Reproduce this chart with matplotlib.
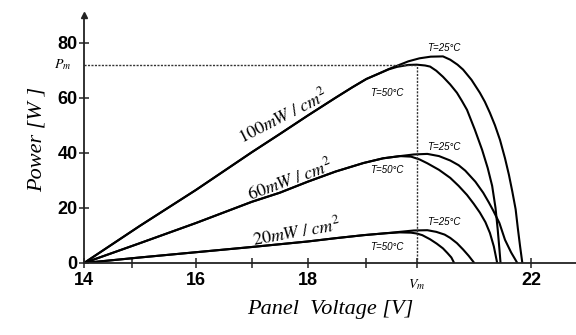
import matplotlib
matplotlib.use("Agg")
import matplotlib.pyplot as plt

plt.rcParams['mathtext.fontset'] = 'stix'

# curves: panel voltage [V] vs power [W]
v_100_t50 = [14, 15, 16, 17, 17.5, 18, 18.5, 18.8, 19.05, 19.3, 19.45, 19.6, 19.8, 19.95, 20.1, 20.19, 20.3, 20.42,
             20.55, 20.67, 20.76, 20.85, 20.99, 21.12, 21.22, 21.30, 21.36, 21.40, 21.43, 21.45]
p_100_t50 = [0, 13.5, 26.5, 40.2, 46.8, 53.5, 60, 63.8, 66.8, 69, 70.3, 71.2, 71.9, 72, 71.7, 71.3, 69.8, 67.6,
             64.8, 61.8, 58.8, 55.6, 48.4, 41.1, 34.5, 28, 20, 12, 5, 0]
v_100_t25 = [14, 15, 16, 17, 17.5, 18, 18.5, 18.8, 19.05, 19.3, 19.45, 19.6, 19.8, 20.0, 20.2, 20.42, 20.55, 20.68,
             20.78, 20.93, 21.08, 21.17, 21.26, 21.35, 21.44, 21.53, 21.60, 21.66, 21.72, 21.76, 21.80, 21.84]
p_100_t25 = [0, 13.5, 26.5, 40.2, 46.8, 53.5, 60, 63.8, 66.8, 69, 70.4, 71.6, 73.2, 74.3, 74.9, 75.0, 73.8, 72.0,
             70.2, 66.5, 61.8, 58.5, 54.5, 50, 44.7, 38.0, 32.0, 26.0, 19.5, 12.5, 6, 0]

v_60_t50 = [14, 15, 16, 17, 17.5, 18, 18.5, 19, 19.35, 19.65, 19.85, 20.0, 20.14, 20.35, 20.55, 20.7, 20.85,
            20.97, 21.08, 21.18, 21.26, 21.33, 21.39]
p_60_t50 = [0, 7.2, 14.5, 22.2, 25.5, 29.5, 33.2, 36.3, 38.0, 38.8, 38.6, 37.6, 36.2, 33.8, 30.9, 28, 24.7,
            21.5, 18.3, 14.8, 10.9, 6, 0]
v_60_t25 = [14, 15, 16, 17, 17.5, 18, 18.5, 19, 19.35, 19.65, 19.9, 20.14, 20.35, 20.55, 20.7, 20.82, 21.0,
            21.14, 21.24, 21.32, 21.43, 21.53, 21.64, 21.75]
p_60_t25 = [0, 7.2, 14.5, 22.2, 25.5, 29.5, 33.2, 36.3, 38.0, 38.8, 39.4, 39.6, 38.8, 37.2, 35.5, 33.5, 29.5,
            25.5, 22.0, 19.0, 14.5, 8.4, 3.8, 0]

v_20_t50 = [14, 15, 16, 17, 18, 18.5, 19, 19.4, 19.65, 19.85, 19.95, 20.05, 20.19, 20.31, 20.42, 20.50, 20.57, 20.62]
p_20_t50 = [0, 2.0, 3.9, 5.8, 7.8, 9.0, 10.1, 10.8, 11.1, 11.0, 10.7, 10.1, 8.6, 7.0, 5.3, 3.6, 2.0, 0]
v_20_t25 = [14, 15, 16, 17, 18, 18.5, 19, 19.4, 19.65, 19.9, 20.14, 20.3, 20.45, 20.55, 20.67, 20.78, 20.88, 20.98]
p_20_t25 = [0, 2.0, 3.9, 5.8, 7.8, 9.0, 10.1, 10.8, 11.3, 11.8, 11.9, 11.3, 10.3, 9.1, 7.2, 4.9, 2.6, 0]

v_m = 19.95
p_m = 72

x_major = [14, 16, 18, v_m, 22]
x_major_labels = ['14', '16', '18', '', '22']
x_minor = [14.85, 17.0, 19.05]
y_major = [0, 20, 40, 60, 80]

fig = plt.figure(figsize=(5.76, 3.35), dpi=100)
ax = fig.add_axes([0.146, 0.215, 0.854, 0.74])

curves = [(v_100_t25, p_100_t25), (v_100_t50, p_100_t50),
          (v_60_t25, p_60_t25), (v_60_t50, p_60_t50),
          (v_20_t25, p_20_t25), (v_20_t50, p_20_t50)]
for v, p in curves:
    ax.plot(v, p, color='black', lw=1.5, solid_joinstyle='round', solid_capstyle='round')

# maximum power point guides
ax.plot([14, v_m], [p_m, p_m], color='#333333', lw=1.0, ls=(0, (1.5, 1)))
ax.plot([v_m, v_m], [0, p_m], color='#333333', lw=1.0, ls=(0, (1.5, 1)))

ax.set_xlim(14, 22.8)
ax.set_ylim(0, 90)

for s in ['top', 'right']:
    ax.spines[s].set_visible(False)
for s in ['left', 'bottom']:
    ax.spines[s].set_linewidth(1.3)
    ax.spines[s].set_color('#222222')
ax.plot([0], [1], marker='^', color='#222222', ms=5, transform=ax.transAxes, clip_on=False)

tick_font = dict(family='Liberation Sans', weight='bold', size=13)
ax.set_xticks(x_major)
ax.set_xticklabels(x_major_labels, fontdict=tick_font)
ax.set_xticks(x_minor, minor=True)
ax.set_yticks(y_major)
ax.set_yticklabels([str(t) for t in y_major], fontdict=tick_font)
ax.tick_params(which='both', direction='inout', length=7, width=1.1, color='#222222')
ax.tick_params(axis='x', pad=3)
ax.tick_params(axis='y', pad=1)

ax.text(v_m, -5, r'$V_m$', ha='center', va='top', fontsize=10)
ax.text(13.78, p_m, r'$P_m$', ha='right', va='center', fontsize=10)

ax.set_xlabel('Panel  Voltage [V]', family='Liberation Serif', style='italic', fontsize=16, labelpad=8)
ax.set_ylabel('Power [W ]', family='Liberation Serif', style='italic', fontsize=16, labelpad=8)

lbl = dict(fontsize=13, ha='center', va='center', rotation_mode='anchor')
ax.text(17.56, 53.5, r'$100mW\ /\ cm^2$', rotation=27, **lbl)
ax.text(17.69, 30.2, r'$60mW\ /\ cm^2$', rotation=20, **lbl)
ax.text(17.8, 11.3, r'$20mW\ /\ cm^2$', rotation=10, **lbl)

t_font = dict(family=['Liberation Sans Narrow', 'Liberation Sans'], style='italic', fontsize=7, ha='center', va='center')
ax.text(20.44, 78.2, 'T=25°C', **t_font)
ax.text(19.42, 61.8, 'T=50°C', **t_font)
ax.text(20.44, 42.2, 'T=25°C', **t_font)
ax.text(19.42, 33.8, 'T=50°C', **t_font)
ax.text(20.44, 14.9, 'T=25°C', **t_font)
ax.text(19.42, 5.8, 'T=50°C', **t_font)

fig.savefig('out.png', dpi=100)
